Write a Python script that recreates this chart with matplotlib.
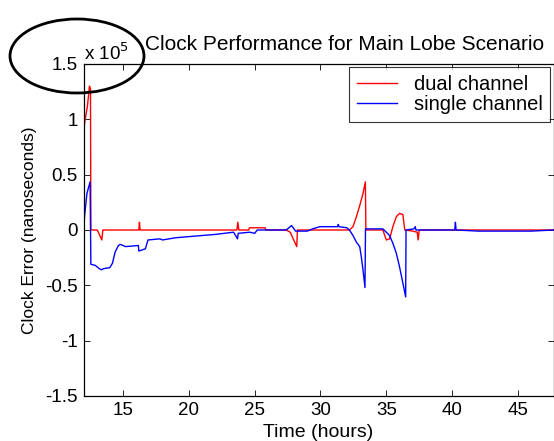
import numpy as np
import matplotlib
matplotlib.use("Agg")
import matplotlib.pyplot as plt
from matplotlib.patches import Ellipse
from matplotlib.ticker import FuncFormatter

plt.rcParams['font.family'] = ['Liberation Sans', 'DejaVu Sans']
plt.rcParams['axes.unicode_minus'] = False

# clock error (units of 1e5 ns, converted below)
dual_t = [12.0, 12.1, 12.3, 12.45, 12.53, 12.56, 13.05, 13.39, 13.47, 16.2, 16.25, 16.3,
          23.65, 23.72, 23.8, 24.55, 24.6, 25.8, 25.85, 27.4, 27.7, 28.2, 28.25, 32.2,
          32.47, 32.73, 32.98, 33.23, 33.41, 33.45, 34.74, 35.0, 35.25, 35.5, 35.76, 36.0,
          36.26, 36.4, 37.0, 37.35, 37.42, 37.5, 40.0, 47.7]
dual_err = [0.88, 0.98, 1.12, 1.30, 1.28, 0.0, 0.0, -0.09, 0.0, 0.0, 0.07, 0.0,
            0.0, 0.07, 0.0, 0.0, 0.02, 0.02, 0.0, 0.0, -0.02, -0.15, 0.0, 0.0,
            0.03, 0.12, 0.22, 0.33, 0.435, 0.0, 0.0, -0.09, -0.08, 0.03, 0.12, 0.15,
            0.14, 0.0, -0.01, -0.02, -0.09, 0.0, 0.0, 0.0]

single_t = [12.0, 12.26, 12.5, 12.56, 12.9, 13.2, 13.39, 13.5, 14.0, 14.2, 14.4, 14.65,
            14.8, 15.2, 16.17, 16.2, 16.7, 16.9, 17.8, 18.0, 19.0, 20.0, 21.0, 22.0,
            23.4, 23.7, 23.75, 24.63, 25.0, 25.2, 27.4, 27.8, 28.05, 28.1, 29.0, 29.4,
            29.95, 31.3, 31.35, 31.4, 32.0, 32.2, 32.47, 32.73, 32.98, 33.1, 33.23, 33.38,
            33.42, 34.74, 35.0, 35.25, 35.5, 35.76, 36.0, 36.26, 36.47, 36.5, 37.1, 37.2,
            37.25, 40.2, 40.25, 40.3, 42.0, 44.0, 46.0, 47.7]
single_err = [0.03, 0.33, 0.435, -0.31, -0.32, -0.35, -0.36, -0.35, -0.34, -0.30, -0.20, -0.14,
              -0.13, -0.15, -0.14, -0.19, -0.17, -0.09, -0.08, -0.09, -0.07, -0.06, -0.05, -0.04,
              -0.02, -0.08, -0.03, -0.02, -0.03, 0.0, 0.0, 0.04, 0.0, -0.01, -0.01, 0.01,
              0.03, 0.03, 0.05, 0.03, 0.02, 0.0, -0.05, -0.11, -0.15, -0.24, -0.36, -0.52,
              0.01, 0.01, -0.02, -0.05, -0.12, -0.21, -0.33, -0.48, -0.605, 0.0, 0.01, 0.03,
              0.0, 0.0, 0.07, 0.0, -0.01, -0.01, -0.01, 0.0]

x_ticks = [15, 20, 25, 30, 35, 40, 45]
y_ticks = [-1.5, -1, -0.5, 0, 0.5, 1, 1.5]

dual_err = np.array(dual_err) * 1e5
single_err = np.array(single_err) * 1e5

fig = plt.figure(figsize=(5.54, 4.41), dpi=100)
ax = fig.add_axes([83.5 / 554, 1 - 396 / 441, (553.5 - 83.5) / 554, (396 - 64) / 441])

ax.plot(dual_t, dual_err, color='#ff0000', lw=1.0, label='dual channel')
ax.plot(single_t, single_err, color='#0000ff', lw=1.0, label='single channel')

ax.set_xlim(12, 47.7)
ax.set_ylim(-1.5e5, 1.5e5)
ax.set_xticks(x_ticks)
ax.set_yticks([v * 1e5 for v in y_ticks])
ax.yaxis.set_major_formatter(FuncFormatter(lambda v, p: '%g' % (v / 1e5)))
ax.tick_params(direction='in', top=True, right=True, length=4, width=0.6, labelsize=13.5, pad=4)
for s in ax.spines.values():
    s.set_linewidth(0.9)

ax.set_xlabel('Time (hours)', fontsize=14, labelpad=4)
ax.set_ylabel('Clock Error (nanoseconds)', fontsize=12.5, labelpad=6)
fig.text(345 / 554, 1 - 45 / 441, 'Clock Performance for Main Lobe Scenario',
         ha='center', va='center', fontsize=15)
fig.text(84 / 554, 1 - 53 / 441, 'x 10$^{5}$', ha='left', va='center', fontsize=13.5)

leg = ax.legend(loc='upper right', fontsize=14.5, frameon=True, fancybox=False,
                borderaxespad=0.15, handlelength=2.0, handletextpad=0.8,
                borderpad=0.4, labelspacing=0.05)
leg.get_frame().set_edgecolor('black')
leg.get_frame().set_linewidth(0.8)

# hand-drawn ellipse around the exponent
ell = Ellipse((77 / 554, 1 - 56 / 441), 134 / 554, 74 / 441, transform=fig.transFigure,
              fill=False, edgecolor='black', lw=2)
fig.patches.append(ell)

fig.savefig('out.png', dpi=100)
